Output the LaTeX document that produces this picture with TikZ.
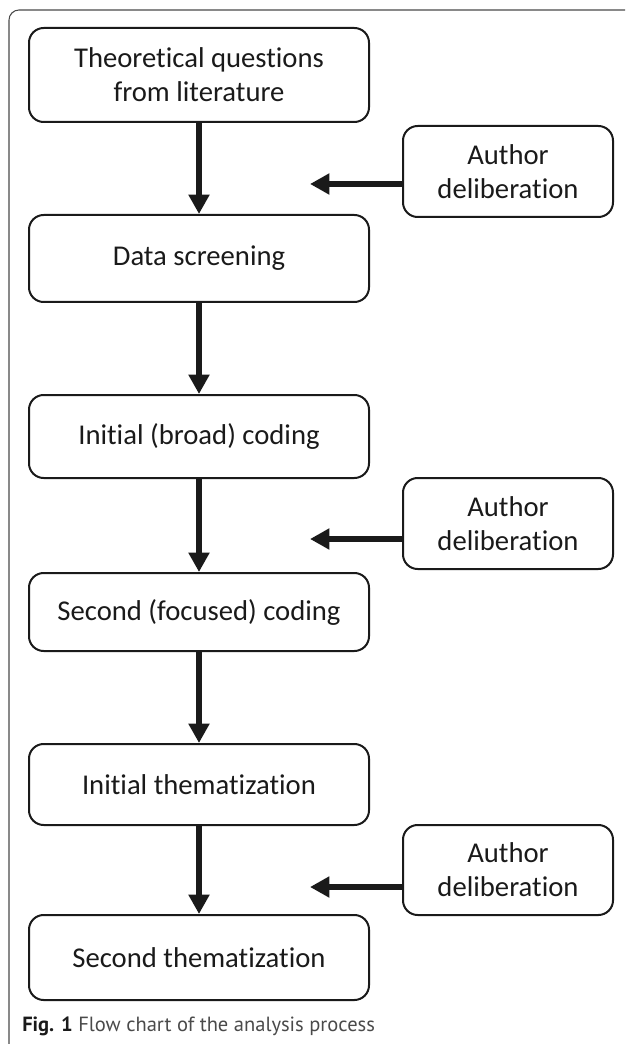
\documentclass[tikz,border=0pt]{standalone}
\usepackage{fontspec}
\setmainfont{Carlito}[Ligatures=NoCommon]
\newfontfamily\capfont{PT Sans}
\usetikzlibrary{arrows.meta}
\definecolor{ink}{HTML}{1A1A1A}
\definecolor{framec}{HTML}{4A4A4A}
\begin{document}
\begin{tikzpicture}[x=0.75pt,y=-0.75pt,
  boxfont/.style={font=\fontsize{21.5pt}{25.5pt}\selectfont},
  flowbox/.style={draw=ink, line width=1.5pt, rounded corners=11pt, minimum width=255pt,
    inner sep=0pt, align=center, boxfont, text=ink},
  authbox/.style={draw=ink, line width=1.5pt, rounded corners=11pt, minimum width=157.5pt,
    minimum height=68.25pt, inner sep=0pt, align=center, boxfont, text=ink},
  flowarrow/.style={draw=ink, line width=4.8pt, -{Triangle[width=15pt,length=14.5pt]}}
]
\useasboundingbox (0,0) rectangle (625,1044);
\begin{scope}
\clip (0,0) rectangle (625,1044);
\draw[framec, line width=0.8pt, rounded corners=7.5pt] (9,10) rectangle (660,1080);
\end{scope}

\node[flowbox, minimum height=70.5pt] (b1) at (199,75) {Theoretical questions\\from literature};
\node[flowbox, minimum height=65.25pt] (b2) at (199,258.5) {Data screening};
\node[flowbox, minimum height=62.25pt] (b3) at (199,436.5) {Initial (broad) coding};
\node[flowbox, minimum height=58.5pt] (b4) at (199,612) {Second (focused) coding};
\node[flowbox, minimum height=60.75pt] (b5) at (199,784.5) {Initial thematization};
\node[flowbox, minimum height=63.75pt] (b6) at (199,957.5) {Second thematization};

\node[authbox] (a1) at (508,171.5) {Author\\deliberation};
\node[authbox] (a2) at (508,523.5) {Author\\deliberation};
\node[authbox, minimum height=67.5pt] (a3) at (508,870) {Author\\deliberation};

\coordinate (t1) at (310,184);
\coordinate (t2) at (310,539);
\coordinate (t3) at (310,887);

\draw[flowarrow] (b1) -- (b2);
\draw[flowarrow] (b2) -- (b3);
\draw[flowarrow] (b3) -- (b4);
\draw[flowarrow] (b4) -- (b5);
\draw[flowarrow] (b5) -- (b6);

\draw[flowarrow] (a1.west |- t1) -- (t1);
\draw[flowarrow] (a2.west |- t2) -- (t2);
\draw[flowarrow] (a3.west |- t3) -- (t3);

\node[anchor=base west, inner sep=0pt, font=\capfont\fontsize{15.4pt}{18pt}\selectfont, text=framec] (cap) at (22,1031)
  {\textbf{\color{ink}Fig. 1} Flow chart of the analysis process};
\end{tikzpicture}
\end{document}
